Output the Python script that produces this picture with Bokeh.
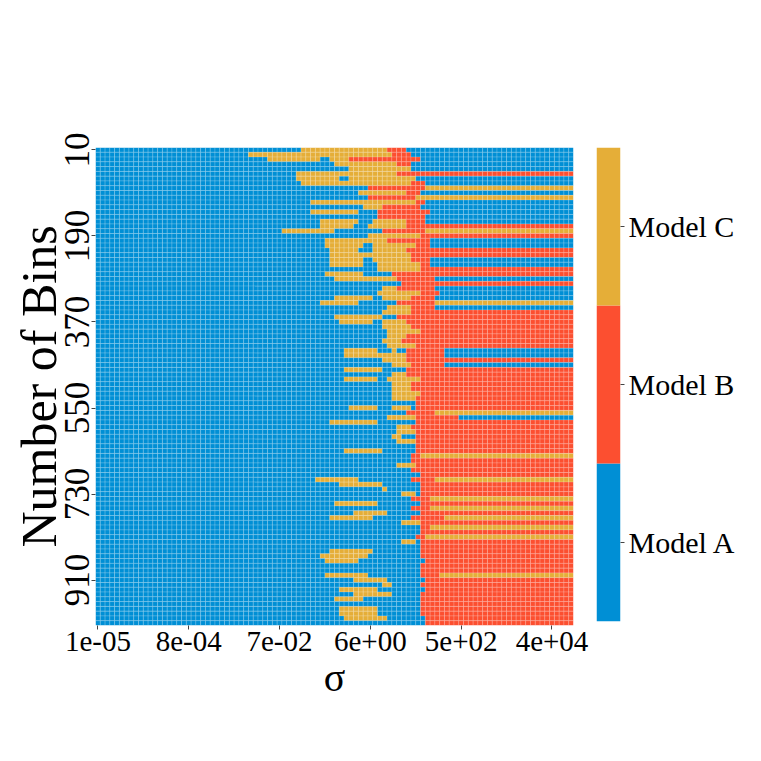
from bokeh.plotting import figure
from bokeh.models import ColumnDataSource, Range1d, FixedTicker, LinearAxis
from bokeh.layouts import row
from bokeh.embed import file_html
from bokeh.resources import INLINE

# ---------------- data ----------------
categories = ["Model A", "Model B", "Model C"]
colors = ["#008fd5", "#fc4f30", "#e5ae38"]
code_of = {"A": 0, "B": 1, "C": 2}

x_tick_index = [0, 19, 38, 57, 76, 95]
x_tick_labels = ["1e-05", "8e-04", "7e-02", "6e+00", "5e+02", "4e+04"]
y_tick_index = [0, 18, 36, 54, 72, 90]
y_tick_labels = ["10", "190", "370", "550", "730", "910"]

# each row (number of bins, top to bottom): runs "<model><last column index>"
row_runs = [
    "A42 C60 B64 A99", "A31 C61 B65 A99", "A35 C46 A48 C52 B67 A99", "A49 C62 B65 A99",
    "A52 C65 A99", "A41 C62 B99", "A41 C50 A52 C66 A99", "A42 C65 B68 A99",
    "A56 B68 C99", "A54 C64 B67 A99", "A56 B66 C99", "A44 C66 B68 A99",
    "A55 C59 B67 A99", "A44 C54 A58 B69 A99", "A58 B68 A99", "A46 C54 A57 C64 B68 A99",
    "A46 C53 A56 C64 B99", "A38 C49 A59 B68 C99", "A56 C67 B99", "A47 C60 B69 A99",
    "A47 C55 A57 C66 B69 A99", "A48 C54 A57 C64 B99", "A48 C65 B99", "A48 C55 A57 C65 B69 A99",
    "A48 C55 A58 C67 B69 A99", "A58 C67 B99", "A47 C55 A61 B99", "A49 C62 B70 A99",
    "A63 B99", "A59 C62 B70 A99", "A58 C67 B71 A99", "A49 C57 A59 C65 B70 A99",
    "A46 C54 A62 B70 C99", "A60 C65 B70 A99", "A59 C65 B99", "A49 C59 A62 B99",
    "A50 C57 A59 C64 B99", "A59 C65 B99", "A60 C67 B99", "A60 C64 B99",
    "A59 C63 B99", "A60 C66 B99", "A51 C58 A61 C62 A64 B72 A99", "A51 C64 B72 A99",
    "A59 C64 B99", "A61 C65 B72 A99", "A51 C59 A64 B99", "A61 C64 B99",
    "A51 C58 A60 C67 B99", "A61 C65 B99", "A61 C65 B99", "A61 C67 B99",
    "A61 C66 B99", "A66 B99", "A52 C58 A61 C65 A66 B99", "A64 B70 C99",
    "A60 C66 B75 A99", "A48 C58 A66 B99", "A62 C65 B99", "A62 C66 B99",
    "A61 C63 A66 B99", "A62 C66 B99", "A66 B99", "A51 C59 A66 B99",
    "A65 B67 C99", "A65 B99", "A62 C66 B99", "A65 B99",
    "A67 B99", "A45 C54 A65 B70 C99", "A50 C59 A67 B99", "A59 C60 A67 B99",
    "A63 C66 A67 B99", "A65 B69 C99", "A49 C58 A67 B99", "A65 B69 C99",
    "A53 C60 A67 B99", "A48 C57 A65 B72 C99", "A63 C67 B99", "A67 B69 C99",
    "A67 B99", "A66 B68 C99", "A63 C66 A67 B99", "A67 B99",
    "A48 C57 A67 B99", "A46 C56 A67 B99", "A47 C54 A68 B99", "A67 B99",
    "A67 B99", "A47 C56 A67 B71 C99", "A53 C60 A68 B99", "A59 C61 A67 B99",
    "A50 C58 A68 B99", "A53 C61 A67 B99", "A49 C55 A67 B99", "A67 B99",
    "A50 C58 A67 B99", "A50 C58 A67 B99", "A51 C60 A68 B99", "A68 B99",
]

# ---------------- expand runs into cells ----------------
xs, ys, fills = [], [], []
n_cols = 0
for r, runs in enumerate(row_runs):
    start = 0
    for tok in runs.split():
        k = code_of[tok[0]]
        end = int(tok[1:])
        for c in range(start, end + 1):
            xs.append(c + 0.5)
            ys.append(r + 0.5)
            fills.append(colors[k])
        start = end + 1
    n_cols = max(n_cols, start)
n_rows = len(row_runs)

src = ColumnDataSource(dict(x=xs, y=ys, fill=fills))

FONT = "Liberation Serif"

p = figure(frame_width=478, frame_height=478,
           x_range=Range1d(0, n_cols), y_range=Range1d(n_rows, 0),
           output_backend="svg", toolbar_location=None,
           min_border_left=95, min_border_top=145, min_border_right=23,
           min_border_bottom=10)
p.rect(x="x", y="y", width=1, height=1, source=src, fill_color="fill",
       line_color="white", line_alpha=0.35, line_width=0.5)

p.grid.visible = False
p.outline_line_color = None

for ax in (p.xaxis[0], p.yaxis[0]):
    ax.axis_line_color = None
    ax.major_tick_in = 0
    ax.major_tick_out = 4
    ax.major_tick_line_color = "#444444"
    ax.minor_tick_line_color = None
    ax.major_label_text_font = FONT
    ax.major_label_text_color = "black"
    ax.axis_label_text_font = FONT
    ax.axis_label_text_font_style = "normal"
    ax.axis_label_text_color = "black"

p.xaxis.ticker = FixedTicker(ticks=[i + 0.5 for i in x_tick_index])
p.xaxis.major_label_overrides = {i + 0.5: s for i, s in zip(x_tick_index, x_tick_labels)}
p.xaxis.major_label_text_font_size = "29px"
p.xaxis.axis_label = "σ"
p.xaxis.axis_label_text_font_size = "40px"
p.xaxis.major_label_standoff = 2
p.xaxis.axis_label_standoff = 1

p.yaxis.ticker = FixedTicker(ticks=[i + 0.5 for i in y_tick_index])
p.yaxis.major_label_overrides = {i + 0.5: s for i, s in zip(y_tick_index, y_tick_labels)}
p.yaxis.major_label_text_font_size = "35px"
p.yaxis.major_label_orientation = "vertical"
p.yaxis.axis_label = "Number of Bins"
p.yaxis.axis_label_text_font_size = "50px"
p.yaxis.major_label_standoff = 2
p.yaxis.axis_label_standoff = -4

# ---------------- colour bar (separate small figure) ----------------
cb = figure(frame_width=24, frame_height=474,
            x_range=Range1d(0, 1), y_range=Range1d(0, len(categories)),
            output_backend="svg", toolbar_location=None,
            min_border_left=0, min_border_top=147, min_border_right=4,
            min_border_bottom=10, x_axis_location=None, y_axis_location=None)
cb.quad(left=0, right=1, bottom=list(range(len(categories))),
        top=[i + 1 for i in range(len(categories))], fill_color=colors,
        line_color=None)
cb.grid.visible = False
cb.outline_line_color = None
cax = LinearAxis(ticker=FixedTicker(ticks=[i + 0.5 for i in range(len(categories))]),
                 major_label_overrides={i + 0.5: s for i, s in enumerate(categories)})
cax.axis_line_color = None
cax.major_tick_in = 0
cax.major_tick_out = 4
cax.major_tick_line_color = "#444444"
cax.minor_tick_line_color = None
cax.major_label_text_font = FONT
cax.major_label_text_font_size = "30px"
cax.major_label_text_color = "black"
cax.major_label_standoff = 4
cb.add_layout(cax, "right")

layout = row(p, cb)
open("out.html", "w").write(file_html(layout, INLINE))
